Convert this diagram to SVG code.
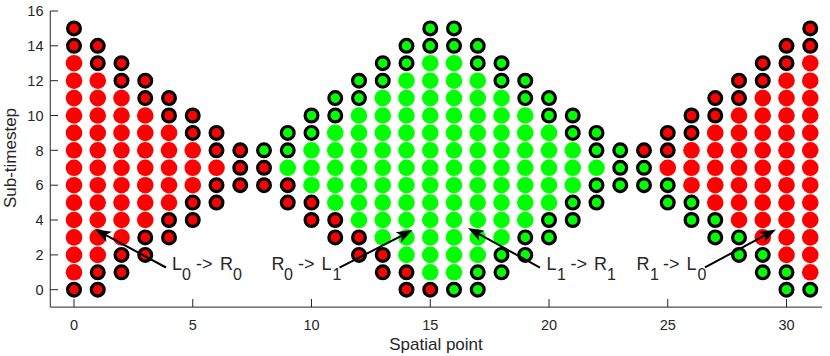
<svg xmlns="http://www.w3.org/2000/svg" width="830" height="356" viewBox="0 0 830 356">
<style>
text{font-family:"Liberation Sans",Arial,sans-serif;fill:#262626}
.tick{font-size:14.5px}
.lab{font-size:17px}
.ann{font-size:18px;fill:#000}
.sub{font-size:16px}
.axis{fill:none;stroke:#262626;stroke-width:1}
.arrow{fill:none;stroke:#000;stroke-width:2;marker-end:url(#ah)}
</style>
<defs>
<circle id="fr" r="8.3" fill="#ff0000"/>
<circle id="fg" r="8.3" fill="#00ff00"/>
<circle id="or" r="6.4" fill="#ff0000" stroke="#000" stroke-width="3.2"/>
<circle id="og" r="6.4" fill="#00ff00" stroke="#000" stroke-width="3.2"/>
<marker id="ah" markerUnits="userSpaceOnUse" viewBox="-11 -8 19 16" refX="0" refY="0" markerWidth="19" markerHeight="16" orient="auto">
<path d="M6,0 L-10,-5.8 L-6,0 L-10,5.8 Z" fill="#000"/>
</marker>
</defs>

<g id="axes">
<path class="axis" d="M50.25,11 V307.1 H822"/>
<path class="axis" d="M74,307.1V299M192.75,307.1V299M311.5,307.1V299M430.25,307.1V299M549,307.1V299M667.75,307.1V299M786.5,307.1V299"/>
<path class="axis" d="M50.25,289.7H58M50.25,254.9H58M50.25,220H58M50.25,185.2H58M50.25,150.3H58M50.25,115.5H58M50.25,80.7H58M50.25,45.8H58M50.25,11H58"/>
<g class="tick" text-anchor="middle">
<text x="74" y="329.5">0</text>
<text x="192.75" y="329.5">5</text>
<text x="311.5" y="329.5">10</text>
<text x="430.25" y="329.5">15</text>
<text x="549" y="329.5">20</text>
<text x="667.75" y="329.5">25</text>
<text x="786.5" y="329.5">30</text>
</g>
<g class="tick" text-anchor="end">
<text x="43.5" y="294.9">0</text>
<text x="43.5" y="260.1">2</text>
<text x="43.5" y="225.2">4</text>
<text x="43.5" y="190.4">6</text>
<text x="43.5" y="155.5">8</text>
<text x="43.5" y="120.7">10</text>
<text x="43.5" y="85.9">12</text>
<text x="43.5" y="51">14</text>
<text x="43.5" y="16.2">16</text>
</g>
<text class="lab" x="436" y="349.5" text-anchor="middle">Spatial point</text>
<text class="lab" transform="translate(15.5,158) rotate(-90)" text-anchor="middle">Sub-timestep</text>
</g>

<g id="region-left">
<g transform="translate(74,0)"><use href="#fr" y="272.3"/><use href="#fr" y="254.9"/><use href="#fr" y="237.4"/><use href="#fr" y="220"/><use href="#fr" y="202.6"/><use href="#fr" y="185.2"/><use href="#fr" y="167.8"/><use href="#fr" y="150.3"/><use href="#fr" y="132.9"/><use href="#fr" y="115.5"/><use href="#fr" y="98.1"/><use href="#fr" y="80.7"/><use href="#fr" y="63.2"/><use href="#or" y="289.7"/><use href="#or" y="45.8"/><use href="#or" y="28.4"/></g>
<g transform="translate(97.75,0)"><use href="#fr" y="254.9"/><use href="#fr" y="237.4"/><use href="#fr" y="220"/><use href="#fr" y="202.6"/><use href="#fr" y="185.2"/><use href="#fr" y="167.8"/><use href="#fr" y="150.3"/><use href="#fr" y="132.9"/><use href="#fr" y="115.5"/><use href="#fr" y="98.1"/><use href="#fr" y="80.7"/><use href="#or" y="289.7"/><use href="#or" y="272.3"/><use href="#or" y="63.2"/><use href="#or" y="45.8"/></g>
<g transform="translate(121.5,0)"><use href="#fr" y="237.4"/><use href="#fr" y="220"/><use href="#fr" y="202.6"/><use href="#fr" y="185.2"/><use href="#fr" y="167.8"/><use href="#fr" y="150.3"/><use href="#fr" y="132.9"/><use href="#fr" y="115.5"/><use href="#fr" y="98.1"/><use href="#or" y="272.3"/><use href="#or" y="254.9"/><use href="#or" y="80.7"/><use href="#or" y="63.2"/></g>
<g transform="translate(145.25,0)"><use href="#fr" y="220"/><use href="#fr" y="202.6"/><use href="#fr" y="185.2"/><use href="#fr" y="167.8"/><use href="#fr" y="150.3"/><use href="#fr" y="132.9"/><use href="#fr" y="115.5"/><use href="#or" y="254.9"/><use href="#or" y="237.4"/><use href="#or" y="98.1"/><use href="#or" y="80.7"/></g>
<g transform="translate(169,0)"><use href="#fr" y="202.6"/><use href="#fr" y="185.2"/><use href="#fr" y="167.8"/><use href="#fr" y="150.3"/><use href="#fr" y="132.9"/><use href="#or" y="237.4"/><use href="#or" y="220"/><use href="#or" y="115.5"/><use href="#or" y="98.1"/></g>
<g transform="translate(192.75,0)"><use href="#fr" y="185.2"/><use href="#fr" y="167.8"/><use href="#fr" y="150.3"/><use href="#or" y="220"/><use href="#or" y="202.6"/><use href="#or" y="132.9"/><use href="#or" y="115.5"/></g>
<g transform="translate(216.5,0)"><use href="#fr" y="167.8"/><use href="#or" y="202.6"/><use href="#or" y="185.2"/><use href="#or" y="150.3"/><use href="#or" y="132.9"/></g>
<g transform="translate(240.25,0)"><use href="#or" y="185.2"/><use href="#or" y="167.8"/><use href="#or" y="150.3"/></g>
<g transform="translate(264,0)"><use href="#og" y="150.3"/><use href="#or" y="185.2"/><use href="#or" y="167.8"/></g>
</g>

<g id="region-middle">
<g transform="translate(287.75,0)"><use href="#fg" y="167.8"/><use href="#or" y="202.6"/><use href="#or" y="185.2"/><use href="#og" y="150.3"/><use href="#og" y="132.9"/></g>
<g transform="translate(311.5,0)"><use href="#fg" y="185.2"/><use href="#fg" y="167.8"/><use href="#fg" y="150.3"/><use href="#or" y="220"/><use href="#or" y="202.6"/><use href="#og" y="132.9"/><use href="#og" y="115.5"/></g>
<g transform="translate(335.25,0)"><use href="#fg" y="202.6"/><use href="#fg" y="185.2"/><use href="#fg" y="167.8"/><use href="#fg" y="150.3"/><use href="#fg" y="132.9"/><use href="#or" y="237.4"/><use href="#or" y="220"/><use href="#og" y="115.5"/><use href="#og" y="98.1"/></g>
<g transform="translate(359,0)"><use href="#fg" y="220"/><use href="#fg" y="202.6"/><use href="#fg" y="185.2"/><use href="#fg" y="167.8"/><use href="#fg" y="150.3"/><use href="#fg" y="132.9"/><use href="#fg" y="115.5"/><use href="#or" y="254.9"/><use href="#or" y="237.4"/><use href="#og" y="98.1"/><use href="#og" y="80.7"/></g>
<g transform="translate(382.75,0)"><use href="#fg" y="237.4"/><use href="#fg" y="220"/><use href="#fg" y="202.6"/><use href="#fg" y="185.2"/><use href="#fg" y="167.8"/><use href="#fg" y="150.3"/><use href="#fg" y="132.9"/><use href="#fg" y="115.5"/><use href="#fg" y="98.1"/><use href="#or" y="272.3"/><use href="#or" y="254.9"/><use href="#og" y="80.7"/><use href="#og" y="63.2"/></g>
<g transform="translate(406.5,0)"><use href="#fg" y="254.9"/><use href="#fg" y="237.4"/><use href="#fg" y="220"/><use href="#fg" y="202.6"/><use href="#fg" y="185.2"/><use href="#fg" y="167.8"/><use href="#fg" y="150.3"/><use href="#fg" y="132.9"/><use href="#fg" y="115.5"/><use href="#fg" y="98.1"/><use href="#fg" y="80.7"/><use href="#or" y="289.7"/><use href="#or" y="272.3"/><use href="#og" y="63.2"/><use href="#og" y="45.8"/></g>
<g transform="translate(430.25,0)"><use href="#fg" y="272.3"/><use href="#fg" y="254.9"/><use href="#fg" y="237.4"/><use href="#fg" y="220"/><use href="#fg" y="202.6"/><use href="#fg" y="185.2"/><use href="#fg" y="167.8"/><use href="#fg" y="150.3"/><use href="#fg" y="132.9"/><use href="#fg" y="115.5"/><use href="#fg" y="98.1"/><use href="#fg" y="80.7"/><use href="#fg" y="63.2"/><use href="#or" y="289.7"/><use href="#og" y="45.8"/><use href="#og" y="28.4"/></g>
<g transform="translate(454,0)"><use href="#fg" y="272.3"/><use href="#fg" y="254.9"/><use href="#fg" y="237.4"/><use href="#fg" y="220"/><use href="#fg" y="202.6"/><use href="#fg" y="185.2"/><use href="#fg" y="167.8"/><use href="#fg" y="150.3"/><use href="#fg" y="132.9"/><use href="#fg" y="115.5"/><use href="#fg" y="98.1"/><use href="#fg" y="80.7"/><use href="#fg" y="63.2"/><use href="#og" y="289.7"/><use href="#og" y="45.8"/><use href="#og" y="28.4"/></g>
<g transform="translate(477.75,0)"><use href="#fg" y="254.9"/><use href="#fg" y="237.4"/><use href="#fg" y="220"/><use href="#fg" y="202.6"/><use href="#fg" y="185.2"/><use href="#fg" y="167.8"/><use href="#fg" y="150.3"/><use href="#fg" y="132.9"/><use href="#fg" y="115.5"/><use href="#fg" y="98.1"/><use href="#fg" y="80.7"/><use href="#og" y="289.7"/><use href="#og" y="272.3"/><use href="#og" y="63.2"/><use href="#og" y="45.8"/></g>
<g transform="translate(501.5,0)"><use href="#fg" y="237.4"/><use href="#fg" y="220"/><use href="#fg" y="202.6"/><use href="#fg" y="185.2"/><use href="#fg" y="167.8"/><use href="#fg" y="150.3"/><use href="#fg" y="132.9"/><use href="#fg" y="115.5"/><use href="#fg" y="98.1"/><use href="#og" y="272.3"/><use href="#og" y="254.9"/><use href="#og" y="80.7"/><use href="#og" y="63.2"/></g>
<g transform="translate(525.25,0)"><use href="#fg" y="220"/><use href="#fg" y="202.6"/><use href="#fg" y="185.2"/><use href="#fg" y="167.8"/><use href="#fg" y="150.3"/><use href="#fg" y="132.9"/><use href="#fg" y="115.5"/><use href="#og" y="254.9"/><use href="#og" y="237.4"/><use href="#og" y="98.1"/><use href="#og" y="80.7"/></g>
<g transform="translate(549,0)"><use href="#fg" y="202.6"/><use href="#fg" y="185.2"/><use href="#fg" y="167.8"/><use href="#fg" y="150.3"/><use href="#fg" y="132.9"/><use href="#og" y="237.4"/><use href="#og" y="220"/><use href="#og" y="115.5"/><use href="#og" y="98.1"/></g>
<g transform="translate(572.75,0)"><use href="#fg" y="185.2"/><use href="#fg" y="167.8"/><use href="#fg" y="150.3"/><use href="#og" y="220"/><use href="#og" y="202.6"/><use href="#og" y="132.9"/><use href="#og" y="115.5"/></g>
<g transform="translate(596.5,0)"><use href="#fg" y="167.8"/><use href="#og" y="202.6"/><use href="#og" y="185.2"/><use href="#og" y="150.3"/><use href="#og" y="132.9"/></g>
<g transform="translate(620.25,0)"><use href="#og" y="185.2"/><use href="#og" y="167.8"/><use href="#og" y="150.3"/></g>
</g>

<g id="region-right">
<g transform="translate(644,0)"><use href="#or" y="150.3"/><use href="#og" y="185.2"/><use href="#og" y="167.8"/></g>
<g transform="translate(667.75,0)"><use href="#fr" y="167.8"/><use href="#og" y="202.6"/><use href="#og" y="185.2"/><use href="#or" y="150.3"/><use href="#or" y="132.9"/></g>
<g transform="translate(691.5,0)"><use href="#fr" y="185.2"/><use href="#fr" y="167.8"/><use href="#fr" y="150.3"/><use href="#og" y="220"/><use href="#og" y="202.6"/><use href="#or" y="132.9"/><use href="#or" y="115.5"/></g>
<g transform="translate(715.25,0)"><use href="#fr" y="202.6"/><use href="#fr" y="185.2"/><use href="#fr" y="167.8"/><use href="#fr" y="150.3"/><use href="#fr" y="132.9"/><use href="#og" y="237.4"/><use href="#og" y="220"/><use href="#or" y="115.5"/><use href="#or" y="98.1"/></g>
<g transform="translate(739,0)"><use href="#fr" y="220"/><use href="#fr" y="202.6"/><use href="#fr" y="185.2"/><use href="#fr" y="167.8"/><use href="#fr" y="150.3"/><use href="#fr" y="132.9"/><use href="#fr" y="115.5"/><use href="#og" y="254.9"/><use href="#og" y="237.4"/><use href="#or" y="98.1"/><use href="#or" y="80.7"/></g>
<g transform="translate(762.75,0)"><use href="#fr" y="237.4"/><use href="#fr" y="220"/><use href="#fr" y="202.6"/><use href="#fr" y="185.2"/><use href="#fr" y="167.8"/><use href="#fr" y="150.3"/><use href="#fr" y="132.9"/><use href="#fr" y="115.5"/><use href="#fr" y="98.1"/><use href="#og" y="272.3"/><use href="#og" y="254.9"/><use href="#or" y="80.7"/><use href="#or" y="63.2"/></g>
<g transform="translate(786.5,0)"><use href="#fr" y="254.9"/><use href="#fr" y="237.4"/><use href="#fr" y="220"/><use href="#fr" y="202.6"/><use href="#fr" y="185.2"/><use href="#fr" y="167.8"/><use href="#fr" y="150.3"/><use href="#fr" y="132.9"/><use href="#fr" y="115.5"/><use href="#fr" y="98.1"/><use href="#fr" y="80.7"/><use href="#og" y="289.7"/><use href="#og" y="272.3"/><use href="#or" y="63.2"/><use href="#or" y="45.8"/></g>
<g transform="translate(810.25,0)"><use href="#fr" y="272.3"/><use href="#fr" y="254.9"/><use href="#fr" y="237.4"/><use href="#fr" y="220"/><use href="#fr" y="202.6"/><use href="#fr" y="185.2"/><use href="#fr" y="167.8"/><use href="#fr" y="150.3"/><use href="#fr" y="132.9"/><use href="#fr" y="115.5"/><use href="#fr" y="98.1"/><use href="#fr" y="80.7"/><use href="#fr" y="63.2"/><use href="#og" y="289.7"/><use href="#or" y="45.8"/><use href="#or" y="28.4"/></g>
</g>

<g id="connectors">
<path class="arrow" d="M166,267.5 L100.3,232.1"/>
<path class="arrow" d="M339.5,267.7 L407.2,232.8"/>
<path class="arrow" d="M540,267.7 L473.2,230.9"/>
<path class="arrow" d="M705,267.3 L770.7,232.3"/>
</g>

<g id="labels" class="ann">
<text x="172" y="270">L<tspan class="sub" x="182" y="280">0</tspan><tspan x="191" y="270"> -&gt; </tspan><tspan x="220">R</tspan><tspan class="sub" x="233" y="280">0</tspan></text>
<text x="271.5" y="270">R<tspan class="sub" x="284" y="280">0</tspan><tspan x="293" y="270"> -&gt; </tspan><tspan x="321.5">L</tspan><tspan class="sub" x="332.5" y="280">1</tspan></text>
<text x="546.5" y="270">L<tspan class="sub" x="557" y="280">1</tspan><tspan x="565.5" y="270"> -&gt; </tspan><tspan x="594">R</tspan><tspan class="sub" x="607" y="280">1</tspan></text>
<text x="636.5" y="270">R<tspan class="sub" x="650" y="280">1</tspan><tspan x="658" y="270"> -&gt; </tspan><tspan x="686.5">L</tspan><tspan class="sub" x="697.5" y="280">0</tspan></text>
</g>
</svg>
